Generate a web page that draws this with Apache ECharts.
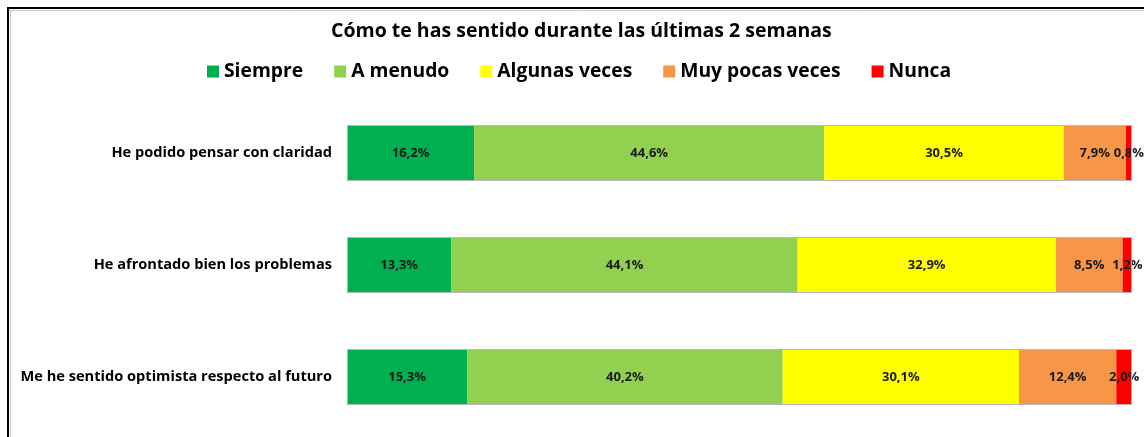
<!DOCTYPE html>
<html>
<head>
<meta charset="utf-8">
<script src="https://cdn.jsdelivr.net/npm/echarts@6/dist/echarts.min.js"></script>
<style>
  html, body { margin: 0; padding: 0; background: #fff; }
  #chart { width: 1144px; height: 437px; }
</style>
</head>
<body>
<div id="chart"></div>
<script>
var categories = [
  "He podido pensar con claridad",
  "He afrontado bien los problemas",
  "Me he sentido optimista respecto al futuro"
];
var seriesNames = ["Siempre", "A menudo", "Algunas veces", "Muy pocas veces", "Nunca"];
var siempre = [16.2, 13.3, 15.3];
var aMenudo = [44.6, 44.1, 40.2];
var algunasVeces = [30.5, 32.9, 30.1];
var muyPocasVeces = [7.9, 8.5, 12.4];
var nunca = [0.8, 1.2, 2.0];
var colors = ["#00b050", "#92d050", "#ffff00", "#f79646", "#ff0000"];

var allValues = [siempre, aMenudo, algunasVeces, muyPocasVeces, nunca];
var font = "'Open Sans', sans-serif";

var myChart = echarts.init(document.getElementById("chart"));

var series = allValues.map(function (vals, i) {
  return {
    name: seriesNames[i],
    type: "bar",
    stack: "total",
    barWidth: 56,
    data: vals,
    itemStyle: { color: colors[i] },
    label: {
      show: true,
      position: "inside",
      color: "#1a1a1a",
      fontFamily: font,
      fontWeight: "bold",
      fontSize: 13,
      formatter: function (p) {
        return p.value.toFixed(1).replace(".", ",") + "%";
      }
    }
  };
});

// outline round the whole bar
series.push({
  name: "outline",
  type: "bar",
  barWidth: 56,
  barGap: "-100%",
  silent: true,
  z: 5,
  data: categories.map(function () { return 100; }),
  itemStyle: { color: "rgba(0,0,0,0)", borderColor: "#b8b8b8", borderWidth: 1 }
});

myChart.setOption({
  animation: false,
  title: {
    text: "Cómo te has sentido durante las últimas 2 semanas",
    left: 326,
    top: 16,
    textStyle: { fontFamily: font, fontWeight: "bold", fontSize: 19.5, color: "#000" }
  },
  legend: {
    data: seriesNames,
    left: 202,
    top: 57,
    icon: "rect",
    itemWidth: 12,
    itemHeight: 12,
    itemGap: 31,
    textStyle: { fontFamily: font, fontWeight: "bold", fontSize: 19.3, color: "#000" }
  },
  grid: { left: 347, right: 12, top: 97, bottom: 4 },
  xAxis: {
    type: "value",
    min: 0,
    max: 100,
    show: false
  },
  yAxis: {
    type: "category",
    data: categories,
    inverse: true,
    axisLine: { show: false },
    axisTick: { show: false },
    axisLabel: {
      margin: 15,
      color: "#000",
      fontFamily: font,
      fontWeight: "bold",
      fontSize: 14.6
    }
  },
  graphic: [
    { type: "line", shape: { x1: 7, y1: 8, x2: 1144, y2: 8 }, style: { stroke: "#000", lineWidth: 2 } },
    { type: "line", shape: { x1: 9, y1: 10.5, x2: 1144, y2: 10.5 }, style: { stroke: "#c8c8c8", lineWidth: 1 } },
    { type: "line", shape: { x1: 8, y1: 7, x2: 8, y2: 437 }, style: { stroke: "#000", lineWidth: 2 } },
    { type: "line", shape: { x1: 10.5, y1: 10, x2: 10.5, y2: 437 }, style: { stroke: "#c8c8c8", lineWidth: 1 } }
  ],
  series: series
});

window.addEventListener("resize", function () { myChart.resize(); });
</script>
</body>
</html>
